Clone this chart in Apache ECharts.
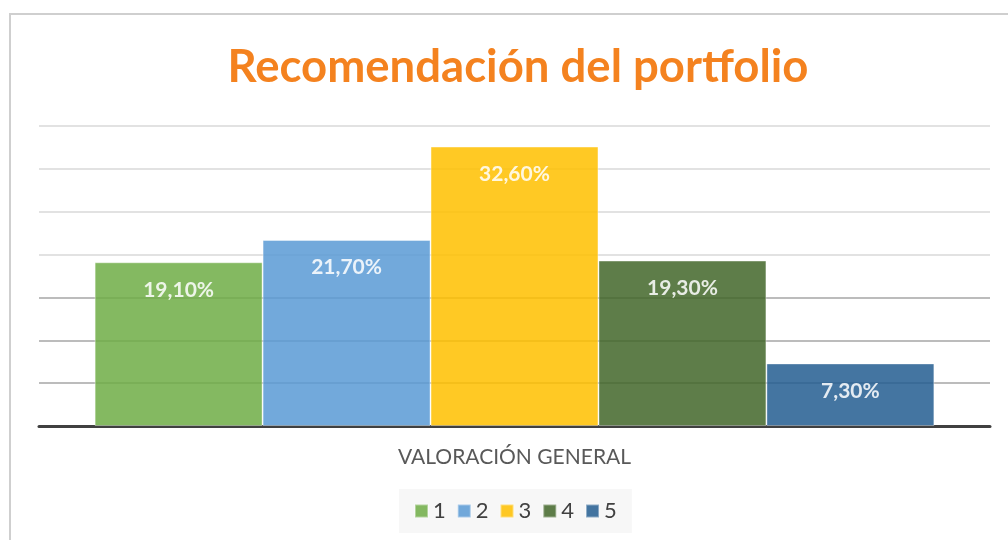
<!DOCTYPE html>
<html>
<head>
<meta charset="utf-8">
<script src="https://cdn.jsdelivr.net/npm/echarts@6/dist/echarts.min.js"></script>
<style>
  html, body { margin: 0; padding: 0; background: #fff; }
  #frame { position: absolute; left: 9px; top: 13px; width: 1100px; height: 600px; border: 2px solid #cfcfcf; }
  #chart { position: absolute; left: 0; top: 0; width: 1008px; height: 540px; }
</style>
</head>
<body>
<div id="frame"></div>
<div id="chart"></div>
<script>
  // datos del grafico
  var categorias = ['VALORACIÓN GENERAL'];
  var series = ['1', '2', '3', '4', '5'];
  var valores = [19.1, 21.7, 32.6, 19.3, 7.3];
  var colores = ['#70AD47', '#5B9BD5', '#FFC000', '#43682B', '#255E91'];
  var ticksY = [0, 5, 10, 15, 20, 25, 30, 35];

  var myChart = echarts.init(document.getElementById('chart'), null, { renderer: 'canvas' });

  var listaSeries = series.map(function (nombre, i) {
    return {
      name: nombre,
      type: 'bar',
      data: [valores[i]],
      barGap: '0%',
      barCategoryGap: '11.7%',
      itemStyle: {
        color: colores[i],
        opacity: 0.86,
        borderColor: 'rgba(255,255,255,0.45)',
        borderWidth: 1
      },
      label: {
        show: true,
        position: 'insideTop',
        distance: 17,
        color: '#fff',
        fontFamily: 'Lato',
        fontWeight: 'bold',
        fontSize: 21,
        formatter: function (p) {
          return p.value.toFixed(2).replace('.', ',') + '%';
        }
      }
    };
  });

  var option = {
    animation: false,
    color: colores,
    title: {
      text: 'Recomendación del portfolio',
      left: 513,
      textAlign: 'center',
      top: 39,
      textStyle: {
        color: '#F4821F',
        fontFamily: 'Lato',
        fontWeight: 'bold',
        fontSize: 45.5
      }
    },
    legend: {
      bottom: 7,
      left: 399,
      icon: 'rect',
      itemWidth: 13,
      itemHeight: 13,
      itemGap: 11,
      padding: [11, 15],
      backgroundColor: '#f7f7f7',
      textStyle: { color: '#404040', fontFamily: 'Lato', fontSize: 22 },
      data: series
    },
    grid: { left: 39, right: 18, top: 126, bottom: 114, containLabel: false },
    xAxis: {
      type: 'category',
      data: categorias,
      axisTick: { show: false },
      axisLine: { lineStyle: { color: '#404040', width: 3 } },
      axisLabel: { color: '#595959', fontFamily: 'Lato', fontSize: 21, margin: 21 }
    },
    yAxis: {
      type: 'value',
      min: ticksY[0],
      max: ticksY[ticksY.length - 1],
      interval: 5,
      axisLabel: { show: false },
      axisLine: { show: false },
      axisTick: { show: false },
      splitLine: {
        lineStyle: {
          color: ['#a6a6a6', '#a6a6a6', '#a6a6a6', '#a6a6a6', '#d9d9d9', '#d9d9d9', '#d9d9d9', '#d9d9d9'],
          width: 1.5
        }
      }
    },
    series: listaSeries
  };

  myChart.setOption(option);
  window.addEventListener('resize', function () {
    myChart.resize();
  });
</script>
</body>
</html>
